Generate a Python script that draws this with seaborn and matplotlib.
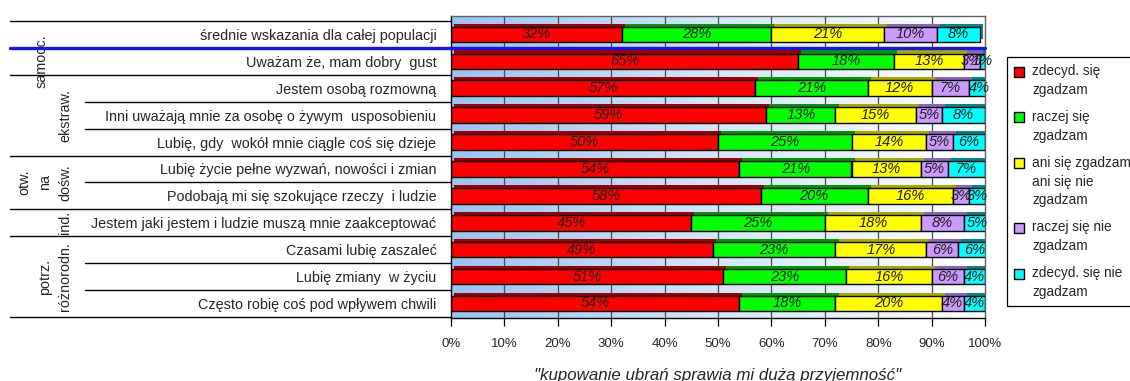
import numpy as np
import matplotlib
matplotlib.use("Agg")
import matplotlib.pyplot as plt
import matplotlib.patheffects as pe
from matplotlib.colors import LinearSegmentedColormap
from matplotlib.patches import Patch, Rectangle
from matplotlib.legend_handler import HandlerPatch
from matplotlib.transforms import blended_transform_factory
import seaborn as sns

# Statements (rows, top to bottom)
statements = [
    "średnie wskazania dla całej populacji",
    "Uważam że, mam dobry  gust",
    "Jestem osobą rozmowną",
    "Inni uważają mnie za osobę o żywym  usposobieniu",
    "Lubię, gdy  wokół mnie ciągle coś się dzieje",
    "Lubię życie pełne wyzwań, nowości i zmian",
    "Podobają mi się szokujące rzeczy  i ludzie",
    "Jestem jaki jestem i ludzie muszą mnie zaakceptować",
    "Czasami lubię zaszaleć",
    "Lubię zmiany  w życiu",
    "Często robię coś pod wpływem chwili",
]

# Answer shares in percent
zdecydowanie_tak = [32, 65, 57, 59, 50, 54, 58, 45, 49, 51, 54]
raczej_tak = [28, 18, 21, 13, 25, 21, 20, 25, 23, 23, 18]
ani_ani = [21, 13, 12, 15, 14, 13, 16, 18, 17, 16, 20]
raczej_nie = [10, 3, 7, 5, 5, 5, 3, 8, 6, 6, 4]
zdecydowanie_nie = [8, 1, 4, 8, 6, 7, 3, 5, 6, 4, 4]

answer_labels = [
    "zdecyd. się\nzgadzam",
    "raczej się\nzgadzam",
    "ani się zgadzam\nani się nie\nzgadzam",
    "raczej się nie\nzgadzam",
    "zdecyd. się nie\nzgadzam",
]

# Trait groups: (label lines, first row, last row)
trait_groups = [
    (["samocc."], 1, 1),
    (["ekstraw."], 2, 4),
    (["otw.", "na", "dośw."], 5, 6),
    (["ind."], 7, 7),
    (["potrz.", "różnorodn."], 8, 10),
]

x_ticks = [0, 10, 20, 30, 40, 50, 60, 70, 80, 90, 100]
x_title = "\"kupowanie ubrań sprawia mi dużą przyjemność\""

series = [zdecydowanie_tak, raczej_tak, ani_ani, raczej_nie, zdecydowanie_nie]
face_colors = ["#ff0000", "#00ff00", "#ffff00", "#cc99ff", "#00ffff"]
side_colors = ["#a00000", "#009a00", "#a8a800", "#8a66b8", "#008888"]

sns.set_style("white")
plt.rcParams["font.family"] = ["Liberation Sans", "DejaVu Sans"]
plt.rcParams["font.size"] = 10

fig = plt.figure(figsize=(11.3, 3.81), dpi=100)
ax = fig.add_axes([451 / 1130, 0.1646, (985 - 451) / 1130, 0.959 - 0.1646])

# Back wall with a light blue to white gradient
wall_cmap = LinearSegmentedColormap.from_list("wall", ["#98c4f4", "#d4e6fb", "#ffffff"])
gradient = np.linspace(0, 1, 256).reshape(1, -1)
ax.imshow(gradient, cmap=wall_cmap, aspect="auto", extent=(0, 100, 10.55, -0.7),
          zorder=0, interpolation="bilinear")
for xv in x_ticks[1:-1]:
    ax.axvline(xv, color="#4a4a4a", lw=0.9, zorder=0.5)

# Stacked bars, one seaborn layer per answer, shifted by the running total
left = np.zeros(len(statements))
for vals, fc, sc in zip(series, face_colors, side_colors):
    n_before = len(ax.patches)
    sns.barplot(x=vals, y=statements, orient="h", color=fc, saturation=1,
                width=0.58, edgecolor="black", linewidth=1.0, ax=ax, zorder=2)
    new_patches = ax.patches[n_before:]
    for patch, l0 in zip(new_patches, left):
        patch.set_x(l0)
        patch.set_path_effects([
            pe.SimplePatchShadow(offset=(2.2, 2.2), shadow_rgbFace=sc, alpha=1.0),
            pe.Normal(),
        ])
    for i, (l0, v) in enumerate(zip(left, vals)):
        ax.text(l0 + v / 2, i, f"{v}%", ha="center", va="center",
                style="italic", fontsize=10.5, color="#202020", zorder=5)
    left = left + np.array(vals)

ax.set_xlim(0, 100)
ax.set_ylim(10.55, -0.7)
ax.set_xticks(x_ticks)
ax.set_xticklabels([f"{t}%" for t in x_ticks], fontsize=9.5)
ax.tick_params(axis="x", bottom=True, length=6, width=0.9, color="black",
               direction="out", pad=8)
ax.tick_params(axis="y", left=False, pad=7, labelsize=10.4)
ax.set_ylabel("")
ax.set_xlabel(x_title, style="italic", fontsize=12.2, labelpad=13)

for side in ["left", "bottom"]:
    ax.spines[side].set_color("black")
    ax.spines[side].set_linewidth(1.0)
for side in ["top", "right"]:
    ax.spines[side].set_color("#606060")
    ax.spines[side].set_linewidth(1.0)

# Row separators in the label column
trans = blended_transform_factory(ax.transAxes, ax.transData)
group_edges = {-0.5, 10.5}
for _, first, last in trait_groups:
    group_edges.add(first - 0.5)
    group_edges.add(last + 0.5)
for b in np.arange(-0.5, len(statements), 1.0):
    if abs(b - 0.5) < 1e-9:
        continue
    x0 = -0.826 if b in group_edges else -0.685
    ax.plot([x0, 0], [b, b], color="black", lw=1.0, transform=trans,
            clip_on=False, zorder=3)

# Rotated group names
line_x = {1: [-0.723], 2: [-0.760, -0.723], 3: [-0.798, -0.760, -0.723]}
for lines, first, last in trait_groups:
    yc = (first + last) / 2
    xs = line_x[len(lines)]
    if lines == ["samocc."]:
        xs = [-0.766]
    for txt, xp in zip(lines, xs):
        ax.text(xp, yc, txt, rotation=90, ha="center", va="center",
                fontsize=10.4, transform=trans, clip_on=False)

# Blue line under the population average row
ax.plot([-0.826, 1.0], [0.5, 0.5], color="#1414f0", lw=2.4, transform=trans,
        clip_on=False, zorder=6)

# Legend: swatch sits next to the first line of each wrapped label
LEGEND_FS = 9.8
LINE_STEP = 13.7  # points between wrapped label lines


def top_aligned_swatch(n_lines):
    def make(legend, orig_handle, xdescent, ydescent, width, height, fontsize):
        shift = (n_lines - 1) * LINE_STEP / 2
        return Rectangle((-xdescent, -ydescent + shift), width, height)
    return HandlerPatch(patch_func=make)


handles = [Patch(facecolor=c, edgecolor="black", linewidth=1.0) for c in face_colors]
handler_map = {h: top_aligned_swatch(lbl.count("\n") + 1)
               for h, lbl in zip(handles, answer_labels)}
leg = fig.legend(handles, answer_labels, loc="upper left",
                 bbox_to_anchor=(1007 / 1130, 1 - 57 / 381),
                 bbox_transform=fig.transFigure, fontsize=LEGEND_FS,
                 handler_map=handler_map,
                 frameon=True, fancybox=False, edgecolor="black", framealpha=1,
                 handlelength=0.75, handleheight=0.75, handletextpad=0.6,
                 labelspacing=0.95, borderpad=0.5, borderaxespad=0)
leg.get_frame().set_linewidth(0.9)
for t in leg.get_texts():
    t.set_linespacing(1.45)

fig.savefig("out.png", dpi=100)
